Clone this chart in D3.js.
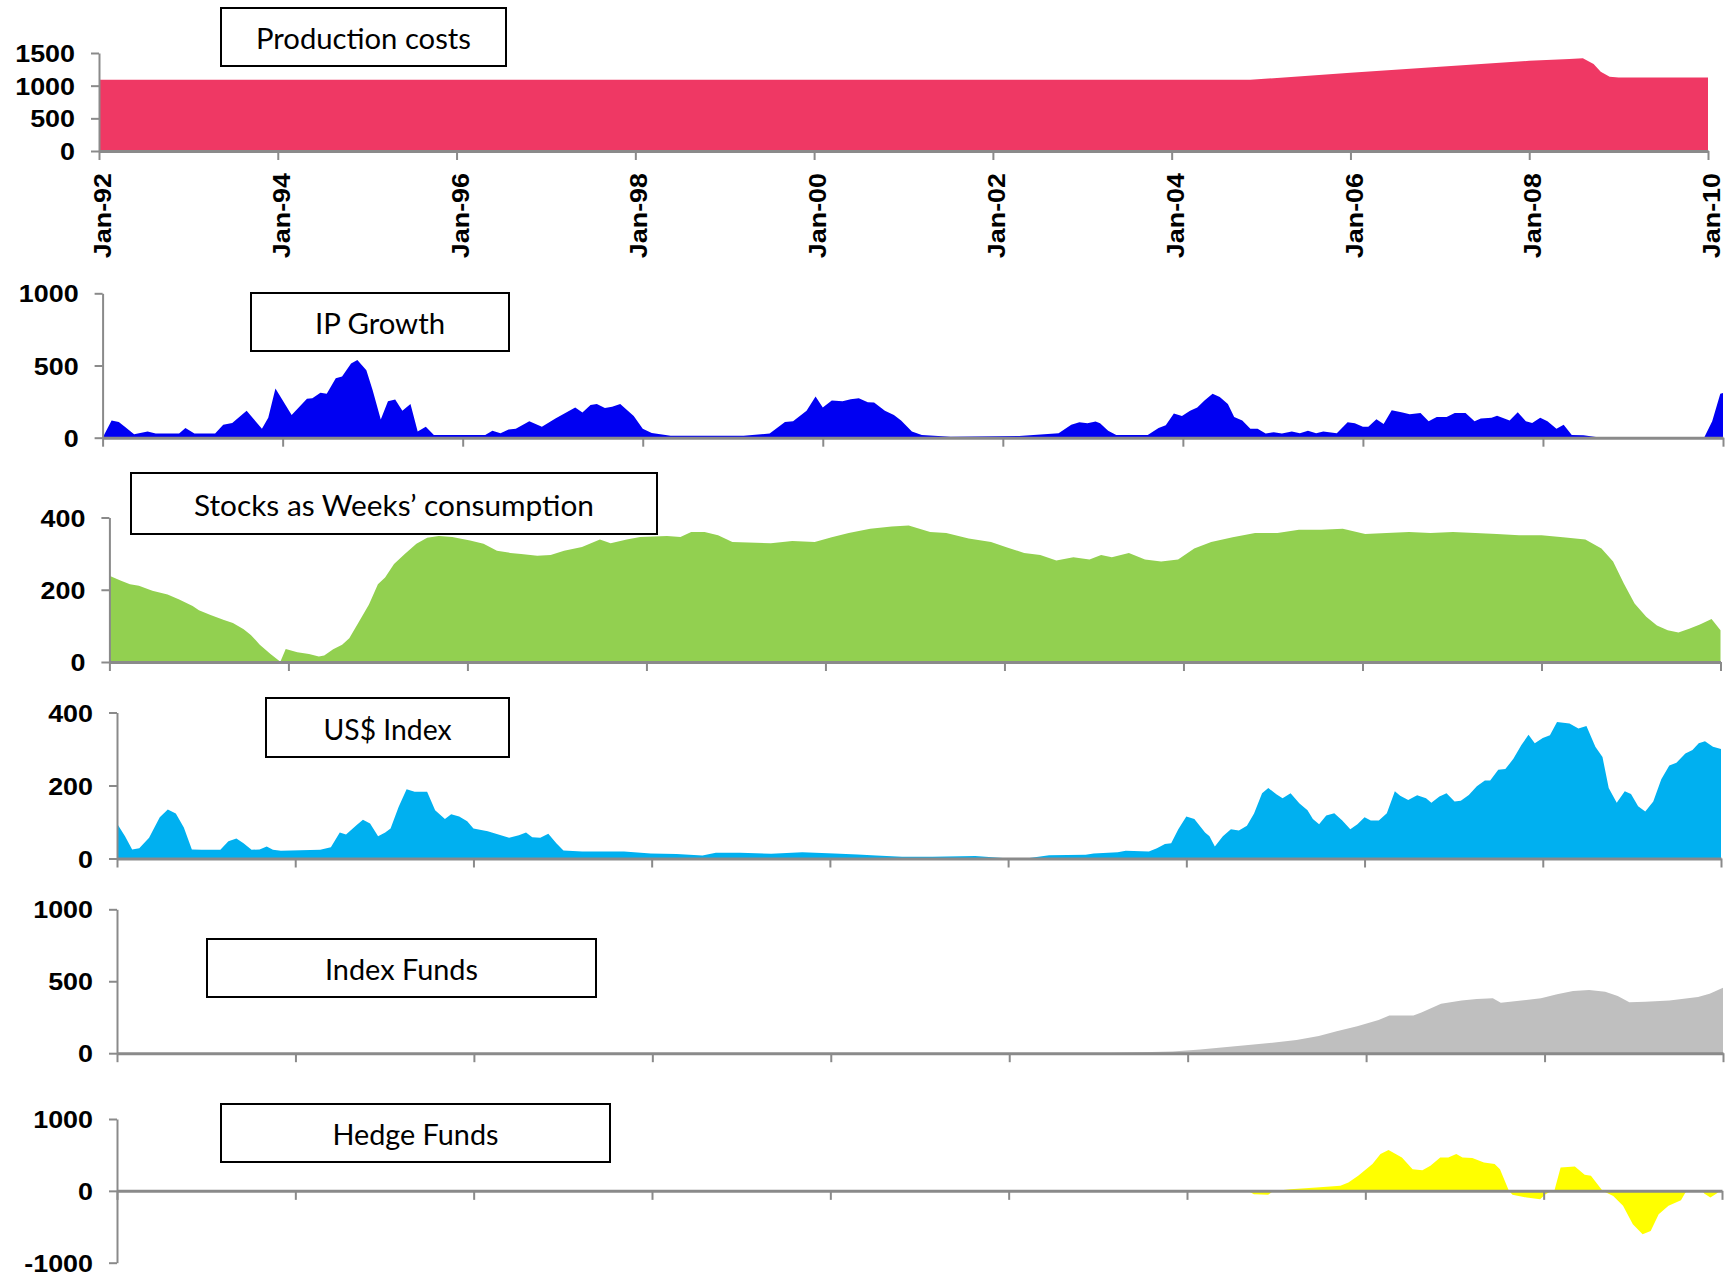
<!DOCTYPE html>
<html><head><meta charset="utf-8">
<script src="https://cdn.jsdelivr.net/npm/d3@7"></script>
<style>body{margin:0;background:#fff}svg{display:block}</style>
</head><body>
<svg id="chart" width="1726" height="1277"></svg>
<script>
// ---------- DATA ----------
const tickYears = [1992,1994,1996,1998,2000,2002,2004,2006,2008,2010];
const tickLabels = ["Jan-92","Jan-94","Jan-96","Jan-98","Jan-00","Jan-02","Jan-04","Jan-06","Jan-08","Jan-10"];

const costYears  = [1992,2004.88,2006,2007,2008,2008.45,2008.6,2008.72,2008.8,2008.9,2009.0,2010];
const costValues = [1090,1090,1198,1290,1380,1410,1418,1330,1214,1137,1125,1125];

const ipYears = [1992.00,1992.10,1992.18,1992.24,1992.35,1992.50,1992.59,1992.85,1992.92,1993.02,1993.25,1993.34,1993.44,1993.60,1993.77,1993.84,1993.92,1994.10,1994.27,1994.33,1994.42,1994.49,1994.59,1994.66,1994.76,1994.83,1994.93,1995.00,1995.09,1995.17,1995.25,1995.33,1995.42,1995.50,1995.59,1995.68,1996.25,1996.33,1996.42,1996.51,1996.59,1996.74,1996.88,1997.03,1997.15,1997.25,1997.33,1997.42,1997.49,1997.58,1997.66,1997.75,1997.90,1998.00,1998.10,1998.31,1999.12,1999.41,1999.58,1999.67,1999.82,1999.92,2000.00,2000.10,2000.22,2000.31,2000.40,2000.50,2000.57,2000.69,2000.79,2000.87,2000.99,2001.10,2001.42,2002.18,2002.62,2002.76,2002.85,2002.94,2003.03,2003.08,2003.17,2003.26,2003.61,2003.73,2003.81,2003.90,2003.99,2004.08,2004.16,2004.24,2004.33,2004.41,2004.50,2004.57,2004.66,2004.75,2004.83,2004.92,2005.01,2005.10,2005.21,2005.30,2005.39,2005.48,2005.56,2005.71,2005.83,2005.91,2006.00,2006.06,2006.15,2006.23,2006.32,2006.44,2006.52,2006.64,2006.73,2006.82,2006.93,2007.02,2007.14,2007.24,2007.31,2007.43,2007.49,2007.63,2007.72,2007.81,2007.88,2007.97,2008.05,2008.15,2008.23,2008.32,2008.45,2008.59,2009.79,2009.88,2009.97,2010.00];
const ipValues = [0,119,109,79,24,43,29,29,67,29,29,90,102,186,62,138,340,157,269,274,312,305,412,424,514,538,467,328,126,252,264,186,233,43,76,19,19,48,31,57,62,114,76,133,174,209,174,226,233,205,214,233,150,62,33,14,14,29,109,114,186,286,209,257,252,267,274,245,243,186,157,119,43,19,7,12,31,90,107,100,112,100,48,19,19,67,86,167,150,186,209,257,305,281,233,143,119,62,62,29,38,29,43,31,48,31,43,31,107,100,76,76,128,95,190,174,162,171,114,143,143,171,171,114,133,138,152,119,176,114,102,138,114,62,90,19,17,5,0,114,305,310];

const stockYears = [1992.00,1992.13,1992.23,1992.33,1992.48,1992.65,1992.78,1992.93,1993.00,1993.13,1993.28,1993.38,1993.50,1993.58,1993.68,1993.80,1993.91,1993.97,1994.10,1994.23,1994.34,1994.40,1994.50,1994.60,1994.68,1994.78,1994.90,1995.00,1995.08,1995.18,1995.30,1995.43,1995.55,1995.68,1995.83,1996.03,1996.18,1996.33,1996.48,1996.60,1996.78,1996.93,1997.08,1997.28,1997.48,1997.60,1997.78,1997.93,1998.23,1998.38,1998.50,1998.65,1998.80,1998.96,1999.39,1999.63,1999.88,2000.07,2000.26,2000.50,2000.74,2000.93,2001.05,2001.17,2001.35,2001.60,2001.85,2002.03,2002.22,2002.40,2002.58,2002.77,2002.95,2003.08,2003.20,2003.39,2003.57,2003.75,2003.94,2004.12,2004.31,2004.55,2004.80,2005.05,2005.29,2005.54,2005.78,2006.03,2006.27,2006.52,2006.76,2007.01,2007.26,2007.50,2007.75,2008.00,2008.24,2008.49,2008.67,2008.80,2008.92,2009.04,2009.17,2009.29,2009.41,2009.53,2009.65,2009.77,2009.90,2010.00];
const stockValues = [239,225,215,211,197,187,173,155,143,130,116,108,91,75,48,22,1,36,27,22,15,18,35,48,66,108,159,215,234,271,299,327,344,349,346,336,327,308,302,299,294,296,308,318,339,329,339,346,349,346,360,360,351,332,329,335,332,345,357,369,375,378,369,360,357,342,332,317,302,296,281,290,284,296,290,302,284,278,284,314,332,345,357,357,366,366,369,354,357,360,357,360,357,354,351,351,345,339,314,278,217,162,125,101,88,82,92,104,119,88];

const usdYears = [1992.00,1992.09,1992.17,1992.25,1992.36,1992.48,1992.57,1992.66,1992.75,1992.84,1992.95,1993.16,1993.25,1993.34,1993.42,1993.51,1993.60,1993.68,1993.75,1993.84,1994.28,1994.40,1994.50,1994.57,1994.69,1994.76,1994.84,1994.93,1995.01,1995.07,1995.16,1995.25,1995.34,1995.48,1995.57,1995.68,1995.75,1995.84,1995.93,1996.00,1996.16,1996.28,1996.40,1996.51,1996.59,1996.66,1996.75,1996.84,1996.93,1997.01,1997.22,1997.69,1997.99,1998.28,1998.57,1998.72,1998.99,1999.34,1999.69,2000.05,2000.31,2000.52,2000.81,2001.15,2001.63,2001.98,2002.22,2002.46,2002.87,2002.96,2003.23,2003.32,2003.58,2003.67,2003.76,2003.83,2003.91,2004.00,2004.09,2004.21,2004.26,2004.32,2004.41,2004.50,2004.59,2004.68,2004.76,2004.85,2004.92,2005.01,2005.08,2005.17,2005.27,2005.36,2005.42,2005.49,2005.57,2005.66,2005.75,2005.84,2005.92,2006.00,2006.07,2006.16,2006.25,2006.34,2006.40,2006.49,2006.59,2006.69,2006.75,2006.84,2006.92,2007.01,2007.08,2007.17,2007.26,2007.35,2007.41,2007.50,2007.58,2007.67,2007.76,2007.84,2007.91,2008.00,2008.08,2008.16,2008.30,2008.40,2008.49,2008.59,2008.67,2008.74,2008.83,2008.92,2008.99,2009.07,2009.15,2009.24,2009.33,2009.42,2009.50,2009.60,2009.68,2009.75,2009.82,2009.91,2010.00];
const usdValues = [96,61,25,28,57,113,134,123,85,25,24,24,47,55,42,24,25,33,24,21,24,31,71,66,92,106,96,61,71,82,141,190,183,183,132,108,121,115,102,82,75,66,57,64,71,58,57,68,42,22,19,19,14,12,8,16,16,13,17,14,11,8,5,5,7,1,1,9,10,14,17,21,19,28,40,42,80,115,108,71,61,33,61,80,77,90,123,179,193,176,165,179,151,132,108,94,118,124,104,80,94,113,104,104,124,184,172,160,173,165,153,170,179,156,158,174,198,214,214,243,245,273,311,339,316,330,338,374,370,356,363,306,278,193,153,184,177,143,129,156,217,255,262,288,297,316,321,306,300];

const indexYears = [1992.00,2003.02,2003.83,2004.14,2004.41,2004.68,2004.95,2005.22,2005.47,2005.67,2005.90,2006.14,2006.26,2006.53,2006.62,2006.84,2007.07,2007.24,2007.42,2007.51,2007.69,2007.96,2008.14,2008.32,2008.50,2008.68,2008.82,2008.95,2009.13,2009.40,2009.72,2009.85,2010.00];
const indexValues = [0,0,11,25,41,57,73,92,119,152,188,230,262,262,282,344,367,377,381,351,363,381,409,432,439,427,397,354,358,367,390,413,455];

const hedgeYears = [1992.00,2004.68,2004.75,2004.91,2004.96,2005.00,2005.16,2005.45,2005.72,2005.81,2005.92,2006.08,2006.17,2006.26,2006.41,2006.53,2006.64,2006.73,2006.84,2006.93,2007.02,2007.09,2007.20,2007.33,2007.45,2007.51,2007.61,2007.65,2007.81,2007.96,2008.02,2008.08,2008.12,2008.19,2008.35,2008.46,2008.53,2008.66,2008.78,2008.89,2009.00,2009.11,2009.20,2009.29,2009.40,2009.54,2009.59,2009.62,2009.78,2009.80,2009.87,2009.94,2009.98];
const hedgeValues = [0,0,-47,-56,-9,0,23,47,70,116,209,372,512,567,465,302,288,349,465,465,512,465,456,395,372,302,0,-56,-93,-116,-47,-9,0,325,340,223,209,0,-70,-209,-465,-605,-558,-326,-209,-130,-23,0,0,-37,-93,-37,0];

// ---------- LAYOUT ----------
const panels = [
  {title:"Production costs", years:costYears, values:costValues, color:"#EF3864",
   domain:[0,1500], yTicks:[0,500,1000,1500], x0:99, x1:1708, yTop:53, yBot:151,
   box:[221,8,506,66], textW:215, labels:true},
  {title:"IP Growth", years:ipYears, values:ipValues, color:"#0000F2",
   domain:[0,1000], yTicks:[0,500,1000], x0:102.6, x1:1723, yTop:293.3, yBot:437.7,
   box:[251,293,509,351], textW:130},
  {title:"Stocks as Weeks\u2019 consumption", years:stockYears, values:stockValues, color:"#92D050",
   domain:[0,400], yTicks:[0,200,400], x0:109.4, x1:1720.5, yTop:517.5, yBot:662,
   box:[131,473,657,534], textW:400},
  {title:"US$ Index", years:usdYears, values:usdValues, color:"#00B0F0",
   domain:[0,400], yTicks:[0,200,400], x0:117, x1:1721, yTop:712.5, yBot:858.5,
   box:[266,698,509,757], textW:128},
  {title:"Index Funds", years:indexYears, values:indexValues, color:"#BFBFBF",
   domain:[0,1000], yTicks:[0,500,1000], x0:117, x1:1723, yTop:909.3, yBot:1053.2,
   box:[207,939,596,997], textW:153},
  {title:"Hedge Funds", years:hedgeYears, values:hedgeValues, color:"#FFFF00",
   domain:[-1000,1000], yTicks:[-1000,0,1000], x0:117, x1:1722, yTop:1119, yBot:1262.7,
   box:[221,1104,610,1162], textW:166}
];

const AXIS = "#8A8A8A";
const svg = d3.select("#chart");

panels.forEach(p => {
  const g = svg.append("g");
  const x = d3.scaleLinear().domain([1992,2010]).range([p.x0,p.x1]);
  const y = d3.scaleLinear().domain(p.domain).range([p.yBot,p.yTop]);
  const data = p.years.map((yr,i)=>[yr,p.values[i]]);

  const area = d3.area().x(d=>x(d[0])).y0(y(0)).y1(d=>y(d[1]));
  g.append("path").datum(data).attr("d",area).attr("fill",p.color);

  // y axis
  const ya = g.append("g").attr("transform",`translate(${p.x0},0)`)
    .call(d3.axisLeft(y).tickValues(p.yTicks).tickSize(8).tickSizeOuter(0).tickFormat(d=>String(d)));
  ya.select(".domain").attr("stroke",AXIS).attr("stroke-width",2);
  ya.selectAll(".tick line").attr("stroke",AXIS).attr("stroke-width",2);
  ya.selectAll(".tick text")
    .attr("x",0).attr("dy","0.36em")
    .attr("transform","translate(-24,0) scale(1.12,1)")
    .attr("text-anchor","end")
    .style("font-family","'Liberation Sans',Arial,sans-serif")
    .style("font-weight","bold").style("font-size","24px").attr("fill","#000");

  // x axis at zero
  const xa = g.append("g").attr("transform",`translate(0,${y(0)})`)
    .call(d3.axisBottom(x).tickValues(tickYears).tickSize(9).tickSizeOuter(0)
      .tickFormat((d,i)=>tickLabels[i]));
  xa.select(".domain").attr("stroke",AXIS).attr("stroke-width",3);
  xa.selectAll(".tick line").attr("stroke",AXIS).attr("stroke-width",2);
  if (p.labels) {
    xa.selectAll(".tick text")
      .attr("x",0).attr("y",0).attr("dy","0.36em")
      .attr("transform","translate(3,22) rotate(-90) scale(1.12,1)")
      .attr("text-anchor","end")
      .style("font-family","'Liberation Sans',Arial,sans-serif")
      .style("font-weight","bold").style("font-size","24px").attr("fill","#000");
  } else {
    xa.selectAll(".tick text").remove();
  }

  // title box
  const [bx0,by0,bx1,by1] = p.box;
  g.append("rect").attr("x",bx0).attr("y",by0).attr("width",bx1-bx0).attr("height",by1-by0)
    .attr("fill","#fff").attr("stroke","#000").attr("stroke-width",2);
  g.append("text").attr("x",(bx0+bx1)/2).attr("y",(by0+by1)/2+12)
    .attr("text-anchor","middle")
    .attr("textLength",p.textW).attr("lengthAdjust","spacingAndGlyphs")
    .style("font-family","Lato,'Open Sans',sans-serif").style("font-size","29px")
    .attr("fill","#000").text(p.title);
});
</script>
</body></html>
